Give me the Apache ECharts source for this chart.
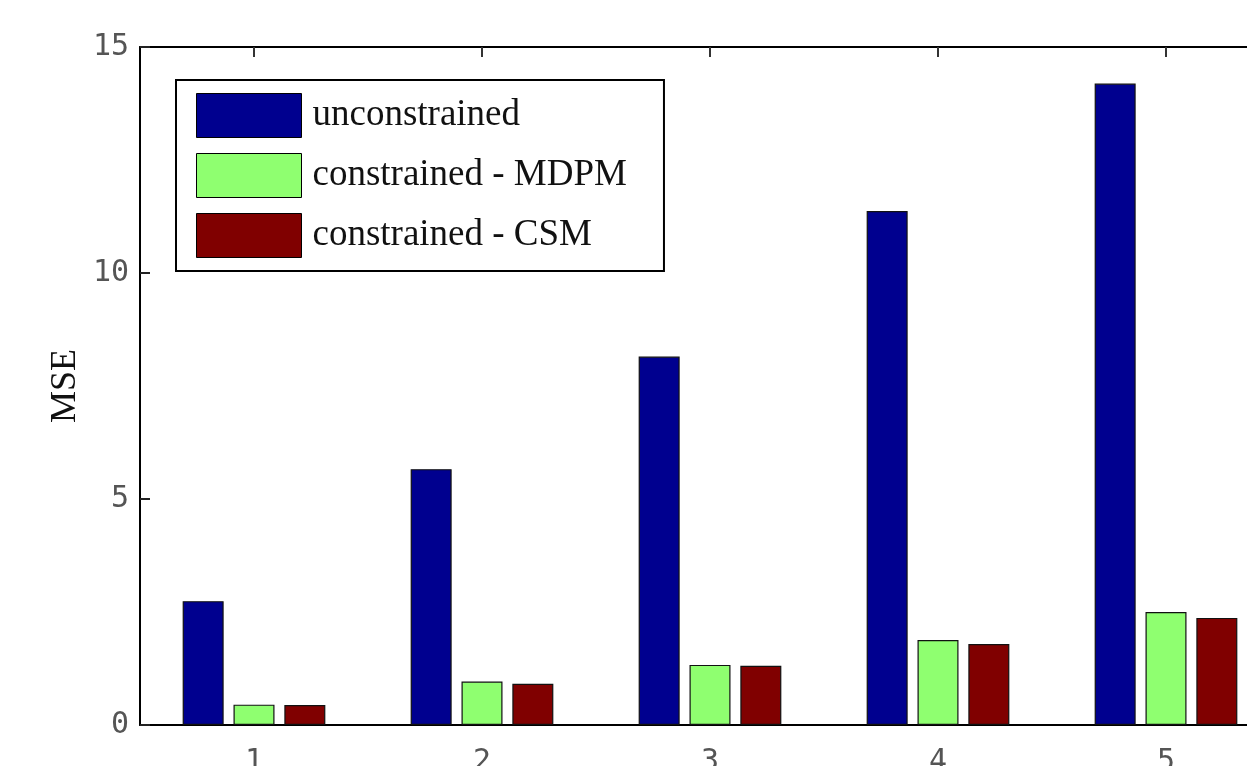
<!DOCTYPE html>
<html>
<head>
<meta charset="utf-8">
<script src="https://cdn.jsdelivr.net/npm/echarts@6/dist/echarts.min.js"></script>
<style>
html, body { margin: 0; padding: 0; background: #fff; }
#main { width: 1247px; height: 766px; }
</style>
</head>
<body>
<div id="main"></div>
<script>
// data
var categories = ['1', '2', '3', '4', '5'];
var unconstrained = [2.74, 5.66, 8.15, 11.37, 14.19];
var mdpm = [0.45, 0.96, 1.33, 1.88, 2.50];
var csm = [0.44, 0.91, 1.31, 1.79, 2.37];
var seriesNames = ['unconstrained', 'constrained - MDPM', 'constrained - CSM'];
var seriesColors = ['#00008F', '#8FFF70', '#800000'];

var chart = echarts.init(document.getElementById('main'));

var tickFont = { fontFamily: 'DejaVu Sans Mono', fontSize: 30, color: '#555' };

function bar(name, data, color) {
    return {
        name: name,
        type: 'bar',
        data: data,
        barWidth: 41,
        barGap: '24%',
        itemStyle: { color: color, borderColor: '#111', borderWidth: 1.2 }
    };
}

var option = {
    animation: false,
    // right is negative: the box runs past the right edge of the picture
    grid: { left: 140, top: 47, bottom: 41, right: -33, outerBoundsMode: 'none', containLabel: false },
    legend: {
        left: 176,
        top: 80,
        orient: 'vertical',
        icon: 'rect',
        itemWidth: 105,
        itemHeight: 44,
        itemGap: 15,
        padding: [13, 37, 13, 20],
        borderColor: '#000',
        borderWidth: 2,
        backgroundColor: '#fff',
        data: seriesNames,
        itemStyle: { borderColor: '#000', borderWidth: 1 },
        textStyle: {
            fontFamily: 'Liberation Serif',
            fontSize: 37,
            color: '#111',
            padding: [0, 0, 0, 6]
        }
    },
    xAxis: [{
        type: 'category',
        data: categories,
        position: 'bottom',
        axisLine: { lineStyle: { color: '#000', width: 2 } },
        axisTick: { show: true, inside: true, length: 10, alignWithLabel: true, lineStyle: { color: '#000', width: 1.5 } },
        axisLabel: Object.assign({ margin: 22 }, tickFont)
    }, {
        type: 'category',
        data: categories,
        position: 'top',
        axisLine: { lineStyle: { color: '#000', width: 2 } },
        axisTick: { show: true, inside: true, length: 10, alignWithLabel: true, lineStyle: { color: '#333', width: 2 } },
        axisLabel: { show: false }
    }],
    yAxis: {
        type: 'value',
        position: 'left',
        min: 0,
        max: 15,
        interval: 5,
        name: 'MSE',
        nameLocation: 'middle',
        nameGap: 56,
        nameMoveOverlap: false,
        nameTextStyle: { fontFamily: 'Liberation Serif', fontSize: 36, color: '#111' },
        axisLine: { show: true, onZero: false, lineStyle: { color: '#000', width: 2 } },
        axisTick: { show: true, inside: true, length: 10, lineStyle: { color: '#222', width: 2 } },
        axisLabel: Object.assign({ margin: 11 }, tickFont),
        splitLine: { show: false }
    },
    series: [
        bar(seriesNames[0], unconstrained, seriesColors[0]),
        bar(seriesNames[1], mdpm, seriesColors[1]),
        bar(seriesNames[2], csm, seriesColors[2])
    ]
};

chart.setOption(option);
</script>
</body>
</html>
